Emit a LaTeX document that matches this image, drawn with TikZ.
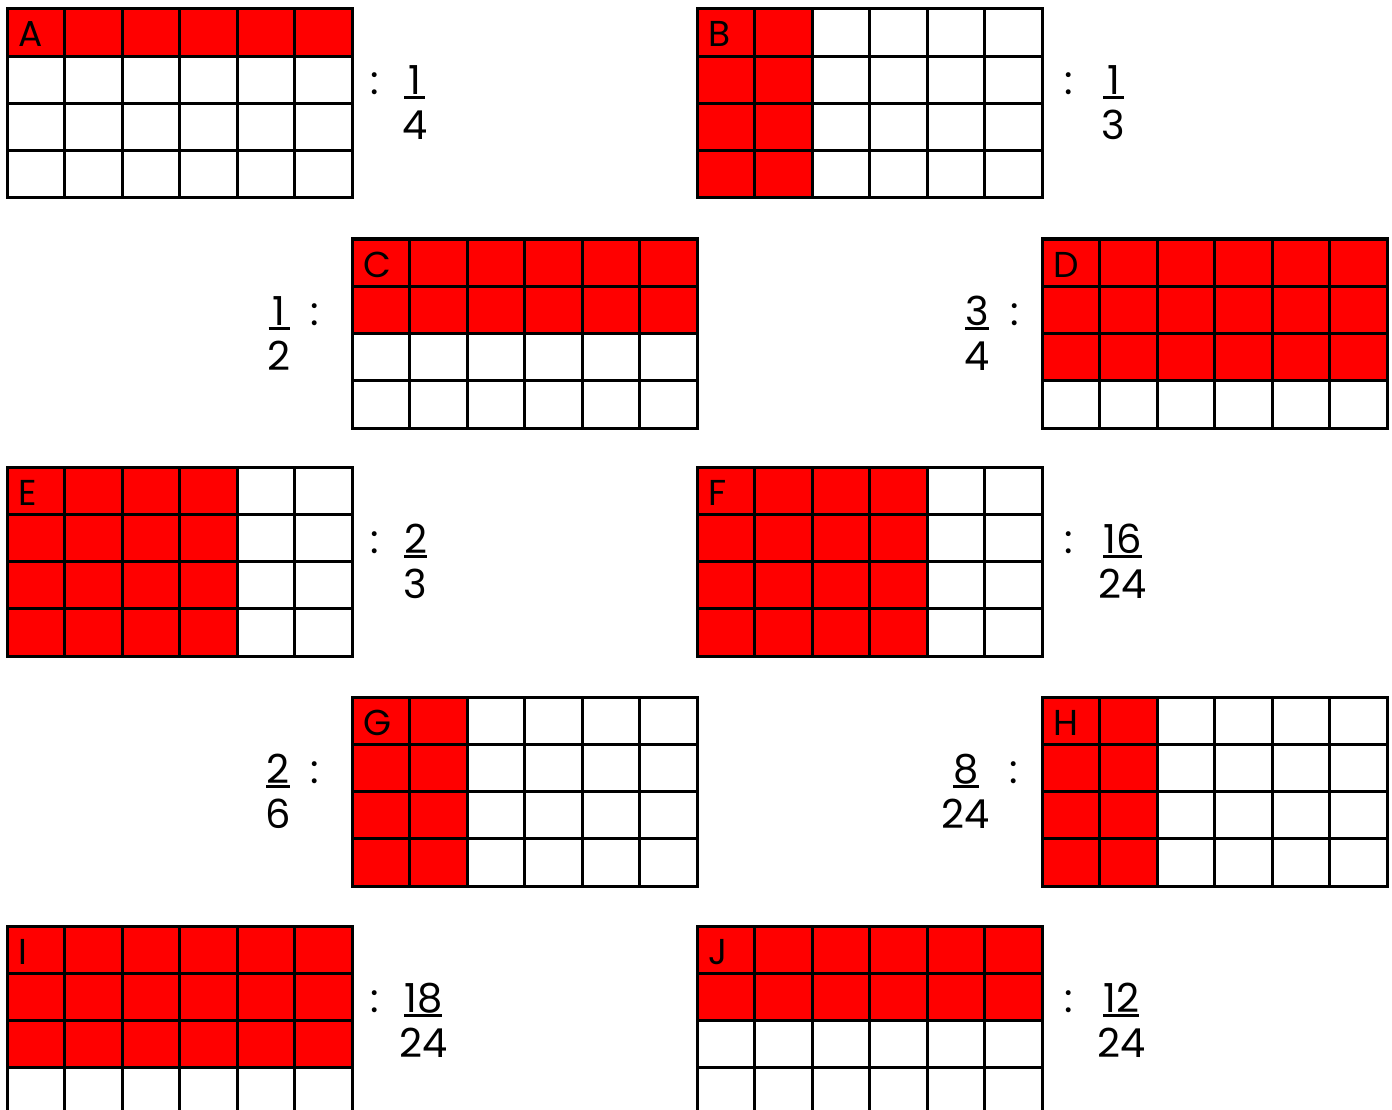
\documentclass[tikz,border=0pt]{standalone}
\usepackage{fontspec}
\setmainfont{Poppins}
\tikzset{
  cellline/.style={line width=3pt, black},
  redfill/.style={fill={rgb,255:red,255;green,0;blue,0}},
  gridframe/.style={draw, line width=3pt, minimum width=345pt, minimum height=189pt, inner sep=0pt, outer sep=0pt},
  lab/.style={font=\fontsize{36}{36}\selectfont, inner sep=0pt, anchor=base west},
  txt/.style={font=\fontsize{40}{40}\selectfont, inner sep=0pt},
  numtxt/.style={txt, minimum width=21pt},
  bar/.style={line width=3pt},
}
\newcommand\gridbox[6]{% name, x0, y0, red cols, red rows, letter
  \fill[redfill] (#2,#3) rectangle ++({57.5*#4},{47.25*#5});
  \foreach \i in {1,...,5} \draw[cellline] ({#2+57.5*\i},#3) -- ++(0,189);
  \foreach \j in {1,2,3} \draw[cellline] (#2,{#3+47.25*\j}) -- ++(345,0);
  \node[gridframe, anchor=north west] (g#1) at (#2,#3) {};
  \node[lab] (l#1) at ({#2+11},{#3+38}) {#6};
}
\newcommand\rightfrac[6]{% name, colon x, frac left x, base y, num, den
  \node[txt, anchor=base] (c#1) at (#2,#4) {:};
  \node[numtxt, anchor=base west] (n#1) at (#3,#4) {#5};
  \node[txt, anchor=base] (d#1) at ([yshift=-45pt]n#1.base) {#6};
  \draw[bar] ([yshift=-3pt]n#1.base west) -- ([yshift=-3pt]n#1.base east);
}
\newcommand\leftfrac[6]{% name, colon x, frac right x, base y, num, den
  \node[txt, anchor=base] (c#1) at (#2,#4) {:};
  \node[txt, anchor=base east] (d#1) at (#3,{#4+45}) {#6};
  \node[numtxt, anchor=base] (n#1) at ([yshift=45pt]d#1.base) {#5};
  \draw[bar] ([yshift=-3pt]n#1.base west) -- ([yshift=-3pt]n#1.base east);
}
\begin{document}
\begin{tikzpicture}[x=1pt, y=-1pt]
  \useasboundingbox (0,0) rectangle (1392,1110);
  \clip (0,0) rectangle (1392,1110);
  \fill[white] (0,0) rectangle (1392,1110);
  % row 1
  \gridbox{A}{7}{9}{6}{1}{A}
  \rightfrac{A}{375}{404}{95}{1}{4}
  \gridbox{B}{697}{9}{2}{4}{B}
  \rightfrac{B}{1069}{1103}{95}{1}{3}
  % row 2
  \gridbox{C}{352}{239}{6}{2}{C}
  \leftfrac{C}{315}{291}{325}{1}{2}
  \gridbox{D}{1042}{239}{6}{3}{D}
  \leftfrac{D}{1015}{990}{325}{3}{4}
  % row 3
  \gridbox{E}{7}{467}{4}{4}{E}
  \rightfrac{E}{375}{404}{553}{2}{3}
  \gridbox{F}{697}{467}{4}{4}{F}
  \rightfrac{F}{1069}{1103}{553}{16}{24}
  % row 4
  \gridbox{G}{352}{697}{2}{4}{G}
  \leftfrac{G}{315}{291}{783}{2}{6}
  \gridbox{H}{1042}{697}{2}{4}{H}
  \leftfrac{H}{1014}{990}{783}{8}{24}
  % row 5
  \gridbox{I}{7}{926}{6}{3}{I}
  \rightfrac{I}{375}{404}{1012}{18}{24}
  \gridbox{J}{697}{926}{6}{2}{J}
  \rightfrac{J}{1069}{1103}{1012}{12}{24}
\end{tikzpicture}
\end{document}
